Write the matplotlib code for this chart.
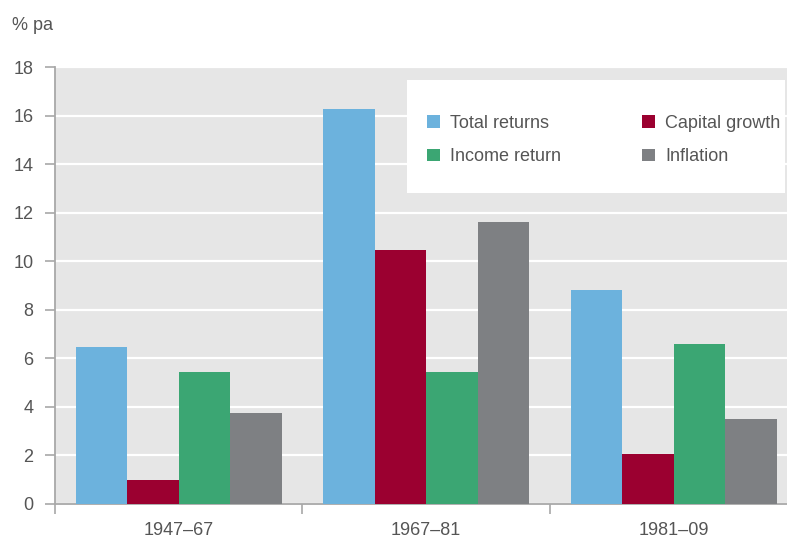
import matplotlib
matplotlib.use("Agg")
import matplotlib.pyplot as plt
from matplotlib.patches import Rectangle
import numpy as np

periods = ["1947\u201367", "1967\u201381", "1981\u201309"]
series_names = ["Total returns", "Capital growth", "Income return", "Inflation"]
total_returns = [6.45, 16.25, 8.8]
capital_growth = [1.0, 10.45, 2.05]
income_return = [5.45, 5.45, 6.6]
inflation = [3.75, 11.6, 3.5]
colors = ["#6cb2dd", "#9b0030", "#3ba673", "#7e8083"]
y_ticks = [0, 2, 4, 6, 8, 10, 12, 14, 16, 18]

plt.rcParams["font.family"] = ["Liberation Sans", "DejaVu Sans"]
text_color = "#555555"
spine_color = "#a8a8a8"
fs = 13

W, H = 787, 539
fig = plt.figure(figsize=(W / 100, H / 100), dpi=100)
left, right, bottom, top = 55, 797.5, 504, 67
ax = fig.add_axes([left / W, 1 - bottom / H, (right - left) / W, (bottom - top) / H])
ax.set_facecolor("#e6e6e6")

x = np.arange(len(periods))
width = 0.208
values = [total_returns, capital_growth, income_return, inflation]
bars = []
for i, (vals, col, name) in enumerate(zip(values, colors, series_names)):
    b = ax.bar(x + (i - 1.5) * width, vals, width, color=col, label=name, zorder=3,
               linewidth=0)
    bars.append(b)

ax.set_xlim(-0.5, 2.5)
ax.set_ylim(0, 18)
ax.set_yticks(y_ticks)
ax.yaxis.grid(True, color="white", linewidth=1.6, zorder=1)
ax.set_axisbelow(True)

for s in ["top", "right"]:
    ax.spines[s].set_visible(False)
for s in ["left", "bottom"]:
    ax.spines[s].set_color(spine_color)
    ax.spines[s].set_linewidth(1.3)

ax.tick_params(axis="y", direction="out", length=7, width=1.2, color=spine_color,
               labelsize=fs, labelcolor=text_color, pad=8.5)
ax.set_xticks(x)
ax.set_xticklabels(periods)
ax.tick_params(axis="x", which="major", length=0, labelsize=fs, labelcolor=text_color, pad=13)
ax.set_xticks([-0.5, 0.5, 1.5, 2.5], minor=True)
ax.tick_params(axis="x", which="minor", direction="out", length=7, width=1.2, color=spine_color)

fig.text(12 / W, 1 - 25 / H, "% pa", fontsize=fs, color=text_color, va="center", ha="left")

# legend panel
ax.add_patch(Rectangle((407 / W, 1 - 193 / H), (785 - 407) / W, (193 - 80) / H,
                       transform=fig.transFigure, facecolor="white", edgecolor="none",
                       zorder=4))
handles = [bars[0], bars[2], bars[1], bars[3]]
labels = [series_names[0], series_names[2], series_names[1], series_names[3]]
leg = ax.legend(handles, labels, ncol=2, frameon=False, loc="upper left",
                bbox_to_anchor=(427 / W, 1 - 114.5 / H), bbox_transform=fig.transFigure,
                fontsize=fs, handlelength=0.72, handleheight=0.72, handletextpad=0.55,
                labelspacing=0.93, columnspacing=4.5, borderpad=0, borderaxespad=0)
leg.set_zorder(5)
for t in leg.get_texts():
    t.set_color(text_color)

fig.savefig("out.png", dpi=100)
